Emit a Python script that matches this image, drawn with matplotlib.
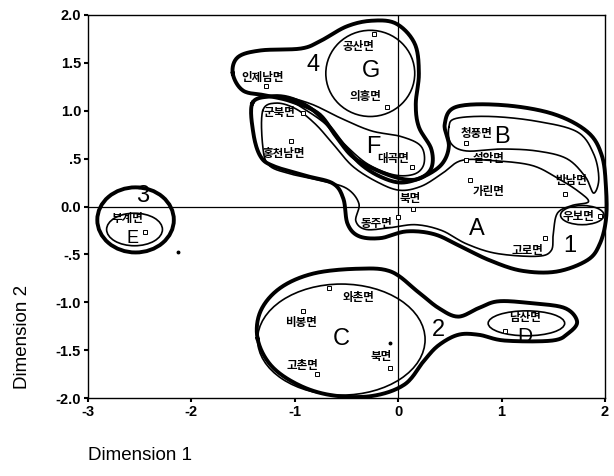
import numpy as np
import matplotlib
matplotlib.use("Agg")
import matplotlib.pyplot as plt
from matplotlib.patches import Ellipse

plt.rcParams['font.family'] = ['Liberation Sans', 'Noto Sans CJK KR']

# places (MDS coordinates)
places = ["공산면", "의흥면", "인제남면", "군북면", "홍천남면", "대곡면", "북면", "동주면",
          "청풍면", "설악면", "가린면", "반남면", "우보면", "고로면", "부계면",
          "와촌면", "비봉면", "고촌면", "북면", "남산면"]
dim1 = [-0.23, -0.11, -1.28, -0.92, -1.04, 0.13, 0.14, 0.00,
        0.66, 0.66, 0.69, 1.61, 1.95, 1.42, -2.45,
        -0.67, -0.92, -0.79, -0.08, 1.03]
dim2 = [1.80, 1.04, 1.26, 0.98, 0.68, 0.41, -0.03, -0.11,
        0.66, 0.49, 0.28, 0.13, -0.10, -0.33, -0.27,
        -0.85, -1.09, -1.75, -1.69, -1.30]

# label offsets in pixels (layout only)
label_dx = [-16, -21, -3, -24, -7, -18, -3, -22, 10, 22, 19, 7, -21, -18, -17, 30, -2, -14, -9, 20]
label_dy = [-12, 10, 8, 0, -12, 9, 11, -6, 10, 1, -12, 14, 0, -12, 14, -10, -12, 9, 12, 13]

# stray dots in the scan
dots_x = [-0.08, -2.13]
dots_y = [-1.43, -0.47]

# hand drawn cluster outlines (data coordinates)
outline_4 = [(-1.60, 1.39), (-1.55, 1.56), (-1.33, 1.63), (-0.94, 1.65), (-0.75, 1.73),
             (-0.50, 1.88), (-0.26, 1.94), (-0.02, 1.91), (0.16, 1.70), (0.20, 1.39),
             (0.17, 1.07), (0.20, 0.83), (0.32, 0.60), (0.32, 0.40), (0.20, 0.29),
             (0.03, 0.29), (-0.21, 0.38), (-0.44, 0.52), (-0.60, 0.73), (-0.77, 0.97),
             (-1.04, 1.10), (-1.28, 1.16), (-1.50, 1.21)]
outline_F = [(-1.11, 1.15), (-0.84, 1.07), (-0.55, 0.92), (-0.26, 0.79), (0.03, 0.73),
             (0.22, 0.63), (0.25, 0.45), (0.16, 0.34), (-0.04, 0.33), (-0.29, 0.44),
             (-0.50, 0.63), (-0.70, 0.86), (-0.94, 1.04)]
outline_1 = [(-1.41, 1.08), (-1.23, 1.15), (-1.04, 1.13), (-0.84, 1.02), (-0.67, 0.84),
             (-0.52, 0.63), (-0.36, 0.44), (-0.17, 0.31), (0.03, 0.25), (0.24, 0.31),
             (0.42, 0.44), (0.49, 0.63), (0.45, 0.86), (0.56, 1.04), (1.00, 1.06),
             (1.49, 0.97), (1.83, 0.78), (1.97, 0.53), (2.01, 0.19), (2.01, -0.13),
             (1.95, -0.39), (1.83, -0.56), (1.53, -0.68), (1.19, -0.67), (0.88, -0.56),
             (0.61, -0.42), (0.35, -0.29), (0.08, -0.26), (-0.17, -0.33), (-0.38, -0.31),
             (-0.49, -0.18), (-0.53, 0.08), (-0.63, 0.24), (-0.89, 0.32), (-1.20, 0.42),
             (-1.33, 0.52), (-1.40, 0.76)]
outline_A = [(-1.31, 1.00), (-1.18, 1.08), (-0.99, 1.02), (-0.80, 0.86), (-0.62, 0.64),
             (-0.44, 0.42), (-0.21, 0.26), (0.01, 0.17), (0.22, 0.21), (0.42, 0.34),
             (0.61, 0.48), (0.90, 0.48), (1.29, 0.43), (1.55, 0.29), (1.74, 0.16),
             (1.84, 0.05), (1.68, 0.01), (1.54, -0.07), (1.50, -0.28), (1.48, -0.46),
             (1.34, -0.52), (0.95, -0.49), (0.66, -0.39), (0.42, -0.25), (0.17, -0.19),
             (-0.07, -0.22), (-0.31, -0.24), (-0.41, -0.15), (-0.38, 0.03), (-0.50, 0.19),
             (-0.75, 0.27), (-1.04, 0.34), (-1.25, 0.43), (-1.31, 0.63)]
outline_B = [(0.49, 0.83), (0.56, 0.92), (0.90, 0.94), (1.34, 0.89), (1.73, 0.78),
             (1.89, 0.55), (1.94, 0.29), (1.89, 0.14), (1.81, 0.31), (1.63, 0.50),
             (1.34, 0.58), (1.00, 0.60), (0.66, 0.58), (0.51, 0.66)]
outline_2 = [(-1.36, -1.38), (-1.33, -1.09), (-1.14, -0.85), (-0.82, -0.70), (-0.39, -0.65),
             (-0.07, -0.68), (0.19, -0.89), (0.39, -1.06), (0.58, -1.15), (0.78, -1.06),
             (0.97, -0.99), (1.29, -1.01), (1.61, -1.06), (1.73, -1.20), (1.65, -1.32),
             (1.49, -1.40), (1.03, -1.40), (0.78, -1.34), (0.58, -1.34), (0.39, -1.45),
             (0.25, -1.61), (0.06, -1.86), (-0.26, -1.98), (-0.65, -1.97), (-0.97, -1.86),
             (-1.23, -1.66)]

# ellipses: (cx, cy, width, height, thick)
ellipses = [(-0.27, 1.39, 0.86, 0.90, False),   # G
            (-2.55, -0.24, 0.54, 0.34, False),  # E
            (-2.54, -0.14, 0.74, 0.68, True),   # 3
            (-0.55, -1.39, 1.62, 1.16, False),  # C
            (1.24, -1.22, 0.74, 0.26, False),   # D
            (1.78, -0.09, 0.42, 0.20, False)]   # small loop round 우보면

# group labels
group_names = ["1", "A", "B", "2", "C", "D", "3", "E", "4", "G", "F"]
group_x = [1.66, 0.76, 1.00, 0.39, -0.55, 1.22, -2.47, -2.57, -0.82, -0.26, -0.24]
group_y = [-0.41, -0.23, 0.73, -1.29, -1.38, -1.36, 0.11, -0.33, 1.48, 1.42, 0.62]
group_size = [17, 17, 17, 17, 17, 15, 17, 13, 17, 17, 17]


def smooth_closed(pts, n=16):
    p = np.array(pts, dtype=float)
    N = len(p)
    t = np.linspace(0, 1, n, endpoint=False)[:, None]
    segs = []
    for i in range(N):
        p0, p1, p2, p3 = p[i - 1], p[i], p[(i + 1) % N], p[(i + 2) % N]
        segs.append(0.5 * (2 * p1 + (-p0 + p2) * t + (2 * p0 - 5 * p1 + 4 * p2 - p3) * t ** 2
                           + (-p0 + 3 * p1 - 3 * p2 + p3) * t ** 3))
    out = np.vstack(segs)
    return np.vstack([out, out[:1]])


fig = plt.figure(figsize=(6.14, 4.76), dpi=100)
ax = fig.add_axes([88 / 614, 1 - 398 / 476, 517 / 614, 383 / 476])

ax.axhline(0, color='black', lw=0.9, zorder=1)
ax.axvline(0, color='black', lw=0.9, zorder=1)

for pts, lw in [(outline_4, 2.8), (outline_F, 1.2), (outline_1, 2.8), (outline_A, 1.2),
                (outline_B, 1.2), (outline_2, 2.8)]:
    s = smooth_closed(pts)
    ax.plot(s[:, 0], s[:, 1], color='black', lw=lw, clip_on=False, zorder=2)

for cx, cy, w, h, thick in ellipses:
    ax.add_patch(Ellipse((cx, cy), w, h, fill=False, ec='black',
                         lw=2.8 if thick else 1.2, zorder=2))

ax.plot(dim1, dim2, 's', ms=3.2, mfc='white', mec='black', mew=0.7, zorder=3)
ax.plot(dots_x, dots_y, 'o', ms=1.8, color='black', zorder=3)

for name, x, y, dx, dy in zip(places, dim1, dim2, label_dx, label_dy):
    ax.annotate(name, (x, y), xytext=(dx, dy), textcoords='offset pixels',
                ha='center', va='center', fontsize=8.3, fontweight='bold',
                family=['Noto Sans CJK KR'], zorder=4)

for g, x, y, fs in zip(group_names, group_x, group_y, group_size):
    ax.text(x, y, g, ha='center', va='center', fontsize=fs, zorder=4)

ax.set_xlim(-3, 2)
ax.set_ylim(-2, 2)
ax.set_xticks([-3, -2, -1, 0, 1, 2])
ax.set_xticklabels(["-3", "-2", "-1", "0", "1", "2"])
ax.set_yticks([2.0, 1.5, 1.0, 0.5, 0.0, -0.5, -1.0, -1.5, -2.0])
ax.set_yticklabels(["2.0", "1.5", "1.0", ".5", "0.0", "-.5", "-1.0", "-1.5", "-2.0"])
ax.tick_params(direction='out', length=3, width=1.5, labelsize=10.5, pad=2)
for lab in ax.get_xticklabels() + ax.get_yticklabels():
    lab.set_fontweight('bold')
for sp in ax.spines.values():
    sp.set_linewidth(1.0)

fig.text(0.036, 0.292, "Dimension 2", rotation=90, ha='center', va='center', fontsize=13.5)
fig.text(0.143, 0.044, "Dimension 1", ha='left', va='center', fontsize=13.5)

fig.savefig("out.png", dpi=100)
